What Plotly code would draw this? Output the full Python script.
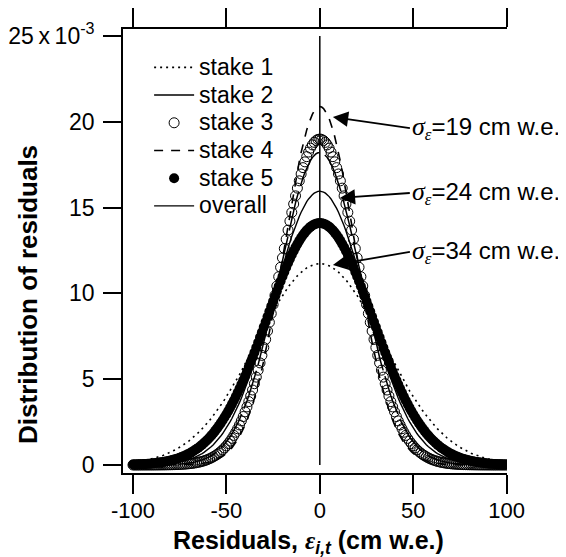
import numpy as np
import plotly.graph_objects as go

# Data: each stake's residual distribution is a
# normal density with zero mean and the standard deviation below (cm w.e.)
series_names = ["stake 1", "stake 2", "stake 3", "stake 4", "stake 5", "overall"]
series_sigma = [34.0, 21.9, 21.0, 19.1, 28.3, 25.0]
residual_min = -100
residual_max = 100
residual_step = 1

y_tick_values = [0, 0.005, 0.010, 0.015, 0.020, 0.025]
y_tick_labels = ["0", "5", "10", "15", "20", "25\u2009x\u200910<sup>-3</sup>"]
x_tick_values = [-100, -50, 0, 50, 100]
x_tick_labels = ["-100", "-50", "0", "50", "100"]

annot_sigma_labels = ["19", "24", "34"]
annot_head_x = [7.0, 10.7, 7.0]
annot_head_y = [0.02028, 0.01556, 0.01166]

FONT = "Liberation Sans, Arial, sans-serif"
SERIF = "Liberation Serif, Times New Roman, serif"

x = np.arange(residual_min, residual_max + residual_step, residual_step, dtype=float)


def normal_pdf(xv, sigma):
    return np.exp(-0.5 * (xv / sigma) ** 2) / (sigma * np.sqrt(2 * np.pi))


styles = [
    dict(mode="lines", line=dict(color="black", width=1.6, dash="2px,4px")),
    dict(mode="lines", line=dict(color="black", width=1.5, dash="40px,6px")),
    dict(mode="markers", marker=dict(symbol="circle-open", size=10, color="black",
                                      line=dict(width=1, color="black"))),
    dict(mode="lines", line=dict(color="black", width=1.6, dash="9px,8px")),
    dict(mode="markers", marker=dict(symbol="circle", size=10, color="black")),
    dict(mode="lines", line=dict(color="black", width=1.4)),
]

fig = go.Figure()
for i, (name, sig) in enumerate(zip(series_names, series_sigma)):
    fig.add_trace(go.Scatter(x=x, y=normal_pdf(x, sig),
                             name=f'<span style="font-size:23px">{name}</span>',
                             legendgroup=name, **styles[i]))

fig.add_shape(type="line", xref="x", yref="y", x0=0, x1=0, y0=0, y1=0.025,
              line=dict(color="black", width=1.5))

arrow_offsets = [(77, 11), (70, -5), (77, -13)]
for lab, hx, hy, (ax, ay) in zip(annot_sigma_labels, annot_head_x, annot_head_y, arrow_offsets):
    fig.add_annotation(
        x=hx, y=hy, xref="x", yref="y", showarrow=True, ax=ax, ay=ay,
        xanchor="left", yanchor="middle",
        arrowhead=2, arrowsize=1.7, arrowwidth=1.8, arrowcolor="black",
        text=(f'<span style="font-family:{SERIF};font-size:26px"><i>σ</i></span>'
              f'<sub><span style="font-family:{SERIF}"><i>ε</i></span></sub>'
              f'={lab} cm w.e.'),
        font=dict(family=FONT, size=24, color="black"))

# axis titles (placed as annotations to match the reference position)
fig.add_annotation(
    xref="paper", yref="paper", x=0.484, y=-0.156, xanchor="center", yanchor="middle",
    showarrow=False,
    text=(f'<b>Residuals, <span style="font-family:{SERIF}"><i>ε</i></span>'
          '<sub><i>i,t</i></sub> (cm w.e.)</b>'),
    font=dict(family=FONT, size=25, color="black"))
fig.add_annotation(
    xref="paper", yref="paper", x=0, xshift=-95, y=0.401, xanchor="center", yanchor="middle",
    showarrow=False, textangle=-90,
    text="<b>Distribution of residuals</b>",
    font=dict(family=FONT, size=26, color="black"))

fig.update_layout(
    width=566, height=557,
    margin=dict(l=115, r=67, t=21, b=92, autoexpand=False),
    paper_bgcolor="white", plot_bgcolor="white",
    font=dict(family=FONT, size=22, color="black"),
    showlegend=True,
    legend=dict(x=0.068, y=0.956, xanchor="left", yanchor="top",
                bgcolor="rgba(0,0,0,0)", font=dict(size=19, family=FONT),
                tracegroupgap=0, itemwidth=40),
)
fig.update_xaxes(
    range=[-105.35, 100.2], tickvals=x_tick_values, ticktext=x_tick_labels,
    showline=True, linecolor="black", linewidth=1.8, mirror="ticks",
    ticks="outside", ticklen=19, tickwidth=1.8, tickcolor="black",
    showgrid=False, zeroline=False, automargin=False,
    tickfont=dict(size=22), ticklabelstandoff=-2,
)
fig.update_yaxes(
    range=[-0.000466, 0.02541], tickvals=y_tick_values, ticktext=y_tick_labels,
    showline=True, linecolor="black", linewidth=1.8,
    ticks="outside", ticklen=18, tickwidth=1.8, tickcolor="black",
    showgrid=False, zeroline=False, automargin=False,
    tickfont=dict(size=23), ticklabelstandoff=4,
)

fig.write_html("out.html")
